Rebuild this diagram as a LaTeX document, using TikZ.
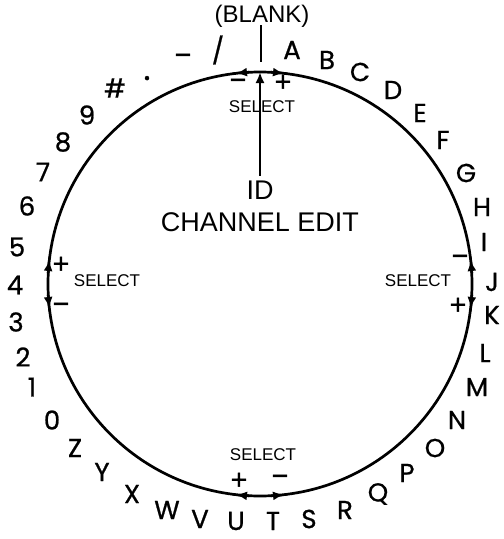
\documentclass[tikz,border=0pt]{standalone}
\usepackage{fontspec}
\setmainfont{Liberation Sans}
\newfontfamily\dialfont[FakeBold=0.8]{Poppins}
\newfontfamily\pmfont[FakeBold=1.5]{Liberation Sans}
\usetikzlibrary{arrows.meta}
\begin{document}
\begin{tikzpicture}[x=1pt,y=1pt,
  ch/.style={font=\dialfont\fontsize{26}{26}\selectfont, inner sep=0pt},
  sel/.style={font=\fontsize{17}{17}\selectfont, inner sep=0pt},
  pm/.style={font=\pmfont\fontsize{28}{28}\selectfont, inner sep=0pt},
  big/.style={font=\fontsize{27}{27}\selectfont, inner sep=0pt},
  ln/.style={line width=2.7pt},
  tip/.style={ln, -{Latex[length=11pt,width=9pt]}},
]
\useasboundingbox (0,0) rectangle (504,-539);
\node[draw, circle, ln, minimum size=424pt, inner sep=0pt, outer sep=0pt] (dial) at (260,-284) {};
% arrow tips on the dial
\begin{scope}[shift={(dial.center)}]
\draw[tip] (87:212) arc[start angle=87, end angle=83.5, radius=212];
\draw[tip] (93:212) arc[start angle=93, end angle=96.5, radius=212];
\draw[tip] (3:212) arc[start angle=3, end angle=6.5, radius=212];
\draw[tip] (-3:212) arc[start angle=-3, end angle=-6.5, radius=212];
\draw[tip] (267:212) arc[start angle=267, end angle=263.5, radius=212];
\draw[tip] (273:212) arc[start angle=273, end angle=276.5, radius=212];
\draw[tip] (177:212) arc[start angle=177, end angle=173.5, radius=212];
\draw[tip] (183:212) arc[start angle=183, end angle=186.5, radius=212];
\end{scope}
% center texts
\node[big] (id) at (260,-190) {ID};
\node[big] (edit) at (260,-222) {CHANNEL EDIT};
\draw[tip] ([yshift=5pt]id.north) -- (dial.north);
% blank
\node[font=\fontsize{24}{24}\selectfont, inner sep=0pt] (blank) at (262,-16) {(BLANK)};
\coordinate (blankend) at (261,-62);
\draw[ln] (blank.south -| blankend) ++(0,2) -- (blankend);
% select labels
\node[sel] (selT) at (262,-107) {SELECT};
\node[sel] (selL) at (107,-281) {SELECT};
\node[sel] (selR) at (418,-281) {SELECT};
\node[sel] (selB) at (263,-455) {SELECT};
% plus minus
\node[pm] (tm) at (238,-84) {−};
\node[pm] (tp) at (283,-83) {+};
\node[pm] (lp) at (61,-265) {+};
\node[pm] (lm) at (61,-308) {−};
\node[pm] (rm) at (460,-260) {−};
\node[pm] (rp) at (458,-306) {+};
\node[pm] (bp) at (239,-481) {+};
\node[pm] (bm) at (280,-480) {−};
% dial characters
\node[ch] (cA) at (292,-50) {A};
\node[ch] (cB) at (327,-60) {B};
\node[ch] (cC) at (360,-72) {C};
\node[ch] (cD) at (393,-90) {D};
\node[ch] (cE) at (420,-113) {E};
\node[ch] (cF) at (443,-140) {F};
\node[ch] (cG) at (466,-173) {G};
\node[ch] (cH) at (482,-207) {H};
\node[ch] (cI) at (484,-242) {I};
\node[ch] (cJ) at (492,-282) {J};
\node[ch] (cK) at (492,-315) {K};
\node[ch] (cL) at (485,-353) {L};
\node[ch] (cM) at (477,-387) {M};
\node[ch] (cN) at (457,-420) {N};
\node[ch] (cO) at (435,-448) {O};
\node[ch] (cP) at (407,-473) {P};
\node[ch] (cQ) at (378,-494) {Q};
\node[ch] (cR) at (345,-510) {R};
\node[ch] (cS) at (309,-519) {S};
\node[ch] (cT) at (273,-521) {T};
\node[ch] (cU) at (236,-521) {U};
\node[ch] (cV) at (200,-519) {V};
\node[ch] (cW) at (167,-510) {W};
\node[ch] (cX) at (132,-494) {X};
\node[ch] (cY) at (102,-472) {Y};
\node[ch] (cZ) at (75,-448) {Z};
\node[ch] (c0) at (52,-420) {0};
\node[ch] (c1) at (32,-387) {1};
\node[ch] (c2) at (23,-357) {2};
\node[ch] (c3) at (16,-322) {3};
\node[ch] (c4) at (15,-285) {4};
\node[ch] (c5) at (17,-247) {5};
\node[ch] (c6) at (27,-206) {6};
\node[ch] (c7) at (43,-172) {7};
\node[ch] (c8) at (63,-142) {8};
\node[ch] (c9) at (87,-115) {9};
\node[ch] (chash) at (115,-88) {\#};
\node[ch, font=\dialfont\fontsize{34}{34}\selectfont, anchor=base] (cdot) at (147,-80) {.};
\node[pm] (cminus) at (183,-59) {−};
\node[ch] (cslash) at (218,-50) {/};
\end{tikzpicture}
\end{document}
